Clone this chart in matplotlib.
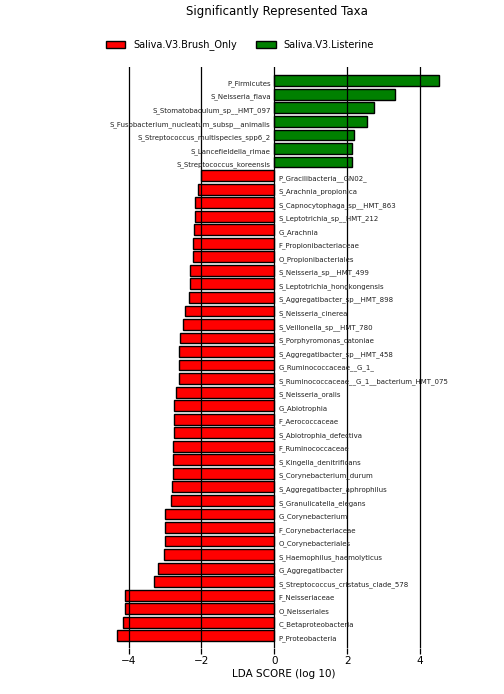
import matplotlib
matplotlib.use("Agg")
import matplotlib.pyplot as plt
from matplotlib.patches import Patch

# Taxa from top to bottom
taxa = [
    "P_Firmicutes", "S_Neisseria_flava", "S_Stomatobaculum_sp__HMT_097",
    "S_Fusobacterium_nucleatum_subsp__animalis", "S_Streptococcus_multispecies_spp6_2",
    "S_Lancefieldella_rimae", "S_Streptococcus_koreensis",
    "P_Gracilibacteria__GN02_", "S_Arachnia_propionica", "S_Capnocytophaga_sp__HMT_863",
    "S_Leptotrichia_sp__HMT_212", "G_Arachnia", "F_Propionibacteriaceae",
    "O_Propionibacteriales", "S_Neisseria_sp__HMT_499", "S_Leptotrichia_hongkongensis",
    "S_Aggregatibacter_sp__HMT_898", "S_Neisseria_cinerea", "S_Veillonella_sp__HMT_780",
    "S_Porphyromonas_catoniae", "S_Aggregatibacter_sp__HMT_458", "G_Ruminococcaceae__G_1_",
    "S_Ruminococcaceae__G_1__bacterium_HMT_075", "S_Neisseria_oralis", "G_Abiotrophia",
    "F_Aerococcaceae", "S_Abiotrophia_defectiva", "F_Ruminococcaceae",
    "S_Kingella_denitrificans", "S_Corynebacterium_durum", "S_Aggregatibacter_aphrophilus",
    "S_Granulicatella_elegans", "G_Corynebacterium", "F_Corynebacteriaceae",
    "O_Corynebacteriales", "S_Haemophilus_haemolyticus", "G_Aggregatibacter",
    "S_Streptococcus_cristatus_clade_578", "F_Neisseriaceae", "O_Neisseriales",
    "C_Betaproteobacteria", "P_Proteobacteria",
]
lda = [
    4.52, 3.31, 2.75, 2.54, 2.18, 2.13, 2.13,
    -2.02, -2.09, -2.17, -2.17, -2.20, -2.23, -2.23, -2.31, -2.31, -2.34,
    -2.45, -2.50, -2.58, -2.61, -2.61, -2.61, -2.69, -2.75, -2.75, -2.75,
    -2.77, -2.77, -2.77, -2.80, -2.83, -2.99, -2.99, -2.99, -3.02, -3.19,
    -3.30, -4.09, -4.09, -4.15, -4.31,
]
groups = ["Saliva.V3.Brush_Only", "Saliva.V3.Listerine"]
group_colors = ["#ff0000", "#008000"]
xticks = [-4, -2, 0, 2, 4]

fig = plt.figure(figsize=(5.04, 6.94), dpi=100)
W, H = 504, 694
x0 = 274.3
pxu = 36.4
xmin, xmax = -5.0, 5.5
left_px = x0 + xmin * pxu
right_px = x0 + xmax * pxu
top_px, bot_px = 67, 648
ax = fig.add_axes([left_px / W, 1 - bot_px / H, (right_px - left_px) / W, (bot_px - top_px) / H])

n = len(taxa)
ypos = [n - 1 - i for i in range(n)]
colors = [group_colors[1] if v > 0 else group_colors[0] for v in lda]
ax.barh(ypos, lda, height=0.8, color=colors, edgecolor="black", linewidth=1, zorder=2)

for y, name, v in zip(ypos, taxa, lda):
    if v > 0:
        ax.text(-0.1, y - 0.2, name, ha="right", va="center", fontsize=5, color="#222222", zorder=4)
    else:
        ax.text(0.12, y - 0.2, name, ha="left", va="center", fontsize=5, color="#222222", zorder=4)

ax.set_xlim(xmin, xmax)
ax.set_ylim(-0.9, n + 0.02)
ax.set_xticks(xticks)
ax.set_xticklabels([f"{t}" if t >= 0 else f"\u2212{-t}" for t in xticks], fontsize=7.5)
ax.set_yticks([])
for s in ax.spines.values():
    s.set_visible(False)
ax.set_axisbelow(False)
ax.xaxis.grid(True, color="black", linewidth=0.9, zorder=3)
ax.tick_params(axis="x", length=4, width=0.9, pad=2)
ax.set_xlabel("LDA SCORE (log 10)", fontsize=7.5, labelpad=2)

fig.text(277 / W, 1 - 12 / H, "Significantly Represented Taxa", ha="center", va="center", fontsize=8.5)

handles = [Patch(facecolor=c, edgecolor="black", linewidth=1) for c in group_colors]
fig.legend(handles, groups, loc="center", bbox_to_anchor=(240 / W, 1 - 45 / H), ncol=2,
           frameon=False, fontsize=7, handlelength=2.0, handleheight=0.7, columnspacing=2.0)

fig.savefig("out.png", dpi=100)
